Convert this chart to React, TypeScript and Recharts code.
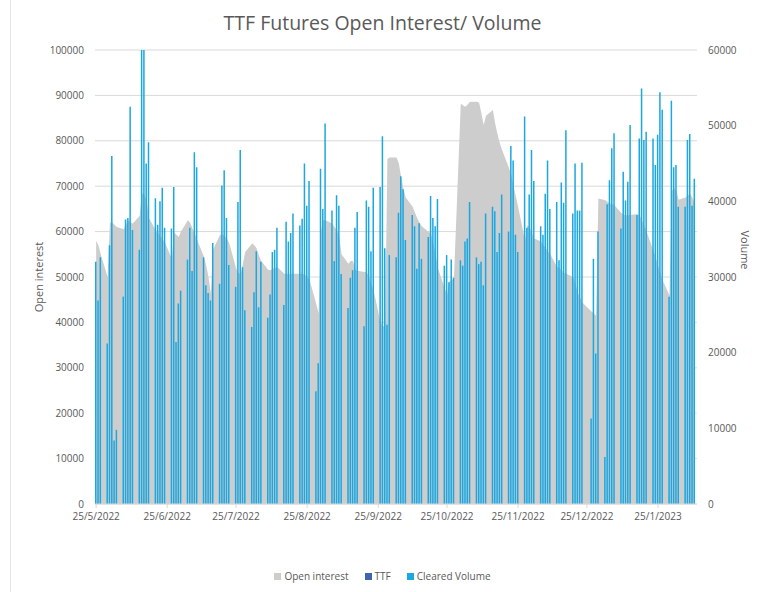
import React from "react"
import { ComposedChart, Area, Bar, XAxis, YAxis, CartesianGrid } from "recharts"

// cleared volume per trading day (right axis), one array per month
const VOL_MAY = [32000, 26900, 32600, 21200, 34200]
const VOL_JUN = [46000, 8400, 9800, 27400, 37600, 37800, 52500, 36200, 33600, 62000, 61000, 45000, 47800, 40400, 36900, 40000, 41800, 36500, 36400, 41900, 21400, 26500]
const VOL_JUL = [28200, 32300, 36500, 30800, 46500, 44500, 32600, 28900, 27900, 26900, 34500, 29100, 42100, 44100, 37800, 31600, 28700, 39900, 46800, 31300, 25600]
const VOL_AUG = [23400, 28000, 33400, 26000, 32000, 24600, 27700, 33300, 33600, 36500, 26300, 37300, 34700, 35800, 38400, 36800, 37700, 45000, 39400, 42700, 14900, 18600, 44300]
const VOL_SEP = [39000, 50300, 38800, 32100, 40800, 39400, 30400, 25900, 29900, 30900, 36500, 38600, 23500, 40100, 39300, 33400, 41800, 41900, 48600, 33800, 23700, 32900]
const VOL_OCT = [32600, 38500, 43300, 41600, 34900, 38200, 36700, 31100, 37100, 32400, 35300, 40700, 37800, 36700, 40300, 31500, 32900, 29300, 32300, 29900, 32200]
const VOL_NOV = [31500, 34700, 35100, 39900, 32600, 31700, 32000, 28900, 38400, 39300, 38700, 33300, 35800, 40900, 36000, 47300, 45400, 35600, 33300, 51200, 36500, 40900]
const VOL_DEC = [46800, 42700, 36700, 35600, 41000, 45400, 39000, 39900, 32200, 42500, 39800, 49400, 38400, 45000, 38800, 38800, 45100, null, 11300, 32400, 19900, 36000]
const VOL_JAN = [6200, 39600, 42800, 47000, 49000, 36400, 43900, 40100, 42600, 50100, 38200, 48300, 54900, 48100, 49200, 48300, 44800, 48800, 54400, 52100, 27400, 53300]
const VOL_FEB = [44500, 44800, 39300, 39300, 48100, 48900, 39400, 43000]

// open interest per trading day (left axis)
const OI_MAY = [58000, 57000, 55000, 50000, 62000]
const OI_JUN = [62000, 61500, 61000, 60500, 61500, 62500, 62000, 61800, 63500, 68500, 68000, 67000, 63000, 60300, 59800, 59000, 58300, 57600, 54000, 59800, 59300, 58800]
const OI_JUL = [60000, 62500, 62000, 60700, 59500, 58200, 54500, 52500, 50000, 46300, 56000, 59300, 59400, 59000, 58500, 57500, 52000, 51000, 50500, 53000, 55500]
const OI_AUG = [57400, 57000, 56300, 54700, 53500, 51600, 51500, 51800, 52000, 52200, 50700, 50700, 50700, 50700, 50700, 50700, 50700, 50500, 50000, 49500, 44000, 42000, 60000]
const OI_SEP = [62500, 62500, 61800, 61000, 60200, 59000, 55000, 52900, 53500, 53500, 51600, 51400, 51100, 51100, 50000, 48500, 47100, 40000, 39200, 39000, 76000, 76300]
const OI_OCT = [76300, 75000, 72000, 69500, 67500, 65500, 64200, 63000, 62000, 61200, 59900, 59500, 57500, 55000, 52000, 47500, 46000, 49000, 49400, 49500, 88200]
const OI_NOV = [87800, 87500, 88000, 88600, 88600, 88400, 86000, 83500, 85500, 86800, 83800, 81500, 79500, 78000, 74000, 72500, 70000, 67800, 65500, 58000, 61400, 61000]
const OI_DEC = [59800, 58500, 57800, 57000, 56400, 55600, 55000, 52200, 52000, 51500, 50900, 50700, 50000, 48500, 46500, 45500, 44400, null, 42400, 42000, 41500, 67300]
const OI_JAN = [66900, 66500, 66200, 66000, 65800, 64100, 63700, 63600, 63600, 63700, 63800, 63600, 62500, 61200, 60000, 55800, 54300, 52500, 51000, 49300, 46000, 69000]
const OI_FEB = [69500, 69000, 67000, 67500, 68000, 68400, 67500, 66200]

const MONTHS = [
  { y: 2022, m: 4, from: 25, vol: VOL_MAY, oi: OI_MAY },
  { y: 2022, m: 5, from: 1, vol: VOL_JUN, oi: OI_JUN },
  { y: 2022, m: 6, from: 1, vol: VOL_JUL, oi: OI_JUL },
  { y: 2022, m: 7, from: 1, vol: VOL_AUG, oi: OI_AUG },
  { y: 2022, m: 8, from: 1, vol: VOL_SEP, oi: OI_SEP },
  { y: 2022, m: 9, from: 1, vol: VOL_OCT, oi: OI_OCT },
  { y: 2022, m: 10, from: 1, vol: VOL_NOV, oi: OI_NOV },
  { y: 2022, m: 11, from: 1, vol: VOL_DEC, oi: OI_DEC },
  { y: 2023, m: 0, from: 1, vol: VOL_JAN, oi: OI_JAN },
  { y: 2023, m: 1, from: 1, vol: VOL_FEB, oi: OI_FEB },
]

const TICK_LABELS = ["25/5/2022", "25/6/2022", "25/7/2022", "25/8/2022", "25/9/2022", "25/10/2022", "25/11/2022", "25/12/2022", "25/1/2023"]

const DAY = 86400000
const START = Date.UTC(2022, 4, 25)

// x position = days since 25/5/2022, weekends skipped (no trading)
const data: Array<{ t: number; vol: number | null; oi: number | null }> = []
MONTHS.forEach((mo) => {
  let d = mo.from
  let i = 0
  while (i < mo.vol.length) {
    const ts = Date.UTC(mo.y, mo.m, d)
    const dow = new Date(ts).getUTCDay()
    if (dow !== 0 && dow !== 6) {
      data.push({ t: Math.round((ts - START) / DAY), vol: mo.vol[i], oi: mo.oi[i] })
      i++
    }
    d++
  }
})

const tickDays = TICK_LABELS.map((s) => {
  const [dd, mm, yy] = s.split("/").map(Number)
  return Math.round((Date.UTC(yy, mm - 1, dd) - START) / DAY)
})

const FONT = "'Open Sans', 'Noto Sans', sans-serif"
const GREY = "#595959"
const tickStyle = { fontSize: 10, fill: GREY, fontFamily: FONT }

export default function App() {
  return (
    <div style={{ position: "absolute", left: 0, top: 0, width: 765, height: 592, background: "#fff", fontFamily: FONT }}>
      <div style={{ position: "absolute", left: 10, top: 0, width: 1, height: 592, background: "#e4e4e4" }} />
      <div style={{ position: "absolute", top: 9, left: 0, width: 765, textAlign: "center", fontSize: 19.5, color: GREY }}>
        TTF Futures Open Interest/ Volume
      </div>
      <div style={{ position: "absolute", left: 38, top: 277, transform: "translate(-50%, -50%) rotate(-90deg)", fontSize: 11, color: GREY, whiteSpace: "nowrap" }}>
        Open interest
      </div>
      <div style={{ position: "absolute", left: 745, top: 250, transform: "translate(-50%, -50%) rotate(90deg)", fontSize: 11, color: GREY, whiteSpace: "nowrap" }}>
        Volume
      </div>
      <ComposedChart width={765} height={592} data={data} margin={{ top: 50, right: 0, bottom: 58, left: 0 }}>
        <CartesianGrid yAxisId="oi" vertical={false} stroke="#d9d9d9" />
        <XAxis
          dataKey="t"
          type="number"
          domain={[-0.5, 262]}
          ticks={tickDays}
          interval={0}
          tickFormatter={(v) => TICK_LABELS[tickDays.indexOf(v)]}
          tick={tickStyle}
          height={30}
          stroke="#d9d9d9"
          tickSize={4}
          tickMargin={5}
        />
        <YAxis
          yAxisId="oi"
          domain={[0, 100000]}
          ticks={[0, 10000, 20000, 30000, 40000, 50000, 60000, 70000, 80000, 90000, 100000]}
          width={95}
          axisLine={false}
          tickLine={false}
          tickSize={8}
          tickMargin={3}
          tick={tickStyle}
          allowDataOverflow
        />
        <YAxis
          yAxisId="vol"
          orientation="right"
          domain={[0, 60000]}
          ticks={[0, 10000, 20000, 30000, 40000, 50000, 60000]}
          width={68}
          axisLine={false}
          tickLine={false}
          tickSize={8}
          tickMargin={3}
          tick={tickStyle}
          allowDataOverflow
        />
        <Area yAxisId="oi" dataKey="oi" type="linear" fill="#cdcdcd" fillOpacity={1} stroke="none" connectNulls isAnimationActive={false} />
        <Bar yAxisId="vol" dataKey="vol" fill="#1ba7e0" barSize={1.5} isAnimationActive={false} />
      </ComposedChart>
      <div style={{ position: "absolute", top: 569, left: 0, width: 765, display: "flex", justifyContent: "center", gap: 16, fontSize: 10, color: GREY }}>
        {[
          { name: "Open interest", color: "#cdcdcd" },
          { name: "TTF", color: "#3f64b0" },
          { name: "Cleared Volume", color: "#1ba7e0" },
        ].map((l) => (
          <div key={l.name} style={{ display: "flex", alignItems: "center", gap: 3 }}>
            <span style={{ display: "inline-block", width: 7, height: 7, background: l.color }} />
            <span>{l.name}</span>
          </div>
        ))}
      </div>
    </div>
  )
}
